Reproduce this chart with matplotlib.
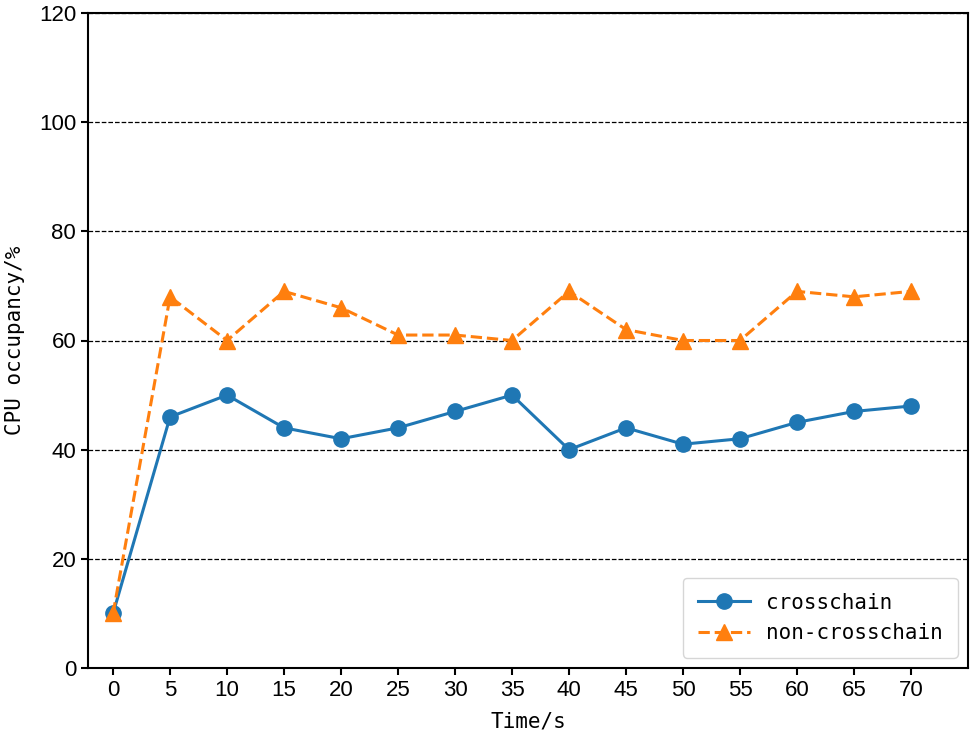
import matplotlib
matplotlib.use("Agg")
import matplotlib.pyplot as plt

time = [0, 5, 10, 15, 20, 25, 30, 35, 40, 45, 50, 55, 60, 65, 70]
crosschain = [10, 46, 50, 44, 42, 44, 47, 50, 40, 44, 41, 42, 45, 47, 48]
non_crosschain = [10, 68, 60, 69, 66, 61, 61, 60, 69, 62, 60, 60, 69, 68, 69]
yticks = [0, 20, 40, 60, 80, 100, 120]

fig = plt.figure(figsize=(9.75, 7.39), dpi=100)
ax = fig.add_axes([88/975, 1-668/739, (968-88)/975, (668-13)/739])

ax.plot(time, crosschain, color='#1f77b4', marker='o', markersize=11, linewidth=2.2, label='crosschain')
ax.plot(time, non_crosschain, color='#ff7f0e', marker='^', markersize=11, linewidth=2.2, linestyle='--', label='non-crosschain')

ax.set_xlim(-2.2, 75)
ax.set_ylim(0, 120)
ax.set_xticks(time)
ax.set_yticks(yticks)
ax.yaxis.grid(True, linestyle='--', color='black', linewidth=0.9)
ax.set_axisbelow(True)
for s in ax.spines.values():
    s.set_linewidth(1.5)
ax.tick_params(width=1.5, length=5, labelsize=16)
for lab in ax.get_xticklabels() + ax.get_yticklabels():
    lab.set_family('Liberation Sans')

mono = 'DejaVu Sans Mono'
ax.set_xlabel('Time/s', fontsize=15, family=mono, labelpad=8)
ax.set_ylabel('CPU occupancy/%', fontsize=15, family=mono, labelpad=10)
leg = ax.legend(loc='lower right', prop={'family': mono, 'size': 15}, borderpad=0.7, handlelength=2.5)

fig.savefig('out.png', dpi=100)
